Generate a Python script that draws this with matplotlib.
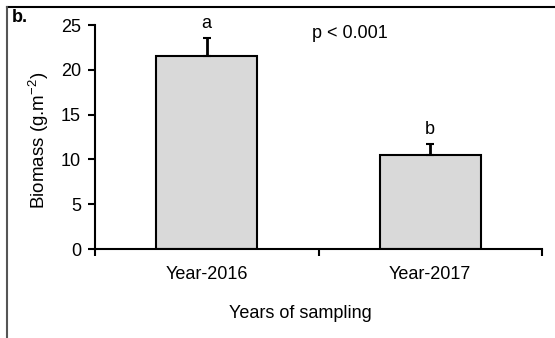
import matplotlib.pyplot as plt
from matplotlib.lines import Line2D

plt.rcParams['font.family'] = ['Liberation Sans', 'DejaVu Sans']

years = ['Year-2016', 'Year-2017']
biomass = [21.5, 10.5]
errors = [2.0, 1.2]
letters = ['a', 'b']

W, H = 555, 338
fig = plt.figure(figsize=(W / 100, H / 100), dpi=100)
ax = fig.add_axes([95 / W, 1 - 249 / H, (542 - 95) / W, (249 - 25) / H])

x = [0, 1]
ax.bar(x, biomass, width=0.45, color='#d9d9d9', edgecolor='black', linewidth=1.5, zorder=2)
ax.errorbar(x, biomass, yerr=[[0, 0], errors], fmt='none', ecolor='black',
            elinewidth=2, capsize=3, capthick=1.5, zorder=3)
for xi, v, e, l in zip(x, biomass, errors, letters):
    ax.text(xi, v + e + 0.7, l, ha='center', va='bottom', fontsize=13)

ax.text(0.64, 24.1, 'p < 0.001', ha='center', va='center', fontsize=13)

ax.set_xlim(-0.5, 1.5)
ax.set_ylim(0, 25)
ax.set_yticks([0, 5, 10, 15, 20, 25])
ax.set_xticks([-0.5, 0.5, 1.5])
ax.set_xticklabels([])
ax.set_xticks(x, minor=True)
ax.set_xticklabels(years, minor=True)
ax.tick_params(axis='x', which='minor', length=0, pad=12, labelsize=13)
ax.tick_params(axis='x', which='major', length=5, width=1.5)
ax.tick_params(axis='y', length=5, width=1.5, labelsize=13, pad=5)

for s in ['top', 'right']:
    ax.spines[s].set_visible(False)
for s in ['left', 'bottom']:
    ax.spines[s].set_linewidth(1.5)

ax.set_ylabel('Biomass (g.m$^{\\mathregular{-2}}$)', fontsize=13.5)
ax.yaxis.set_label_coords((39 - 95) / (542 - 95), (249 - 140) / (249 - 25))
ax.set_xlabel('Years of sampling', fontsize=13)
ax.xaxis.set_label_coords((300 - 95) / (542 - 95), -(313 - 249) / (249 - 25))
ax.xaxis.label.set_va('center')
ax.yaxis.label.set_va('center')

fig.text(12 / W, 1 - 18 / H, 'b.', fontsize=13, fontweight='bold', va='center')

# panel border (top and left)
fig.add_artist(Line2D([7 / W, 1], [1 - 7 / H, 1 - 7 / H], color='black', linewidth=1.5))
fig.add_artist(Line2D([7 / W, 7 / W], [0, 1 - 7 / H], color='#555555', linewidth=1.5))

fig.savefig('out.png', dpi=100)
